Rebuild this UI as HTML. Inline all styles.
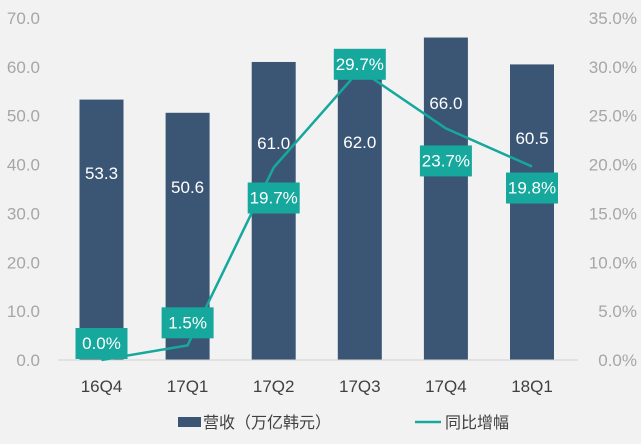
<!DOCTYPE html>
<html><head><meta charset="utf-8"><style>
body{margin:0;background:#f2f2f2;}
svg{display:block;font-family:"Liberation Sans","Noto Sans CJK SC",sans-serif;}
</style></head><body>
<svg id="c" width="641" height="444"></svg>
<script>
const categories=["16Q4","17Q1","17Q2","17Q3","17Q4","18Q1"];
const revenue=[53.3,50.6,61.0,62.0,66.0,60.5];
const growth=[0.0,1.5,19.7,29.7,23.7,19.8];
const leftTicks=[0,10,20,30,40,50,60,70];
const rightTicks=[0,5,10,15,20,25,30,35];
const growthLabelOffset=[-17,-23,30,-6,32,21];
const barLabelY=[173,187,143,142,103,138];
const NS="http://www.w3.org/2000/svg";
const svg=document.getElementById('c');
function el(t,a,p){const e=document.createElementNS(NS,t);for(const k in a)e.setAttribute(k,a[k]);(p||svg).appendChild(e);return e;}
const y0=360,yTop=18;
const yL=v=>y0-(v/70)*(y0-yTop);
const yR=v=>y0-(v/35)*(y0-yTop);
const xC=i=>101.5+i*86.1;
const bw=44;
leftTicks.forEach(t=>{const e=el('text',{x:40,y:yL(t)+6,'text-anchor':'end','font-size':17,fill:'#a6a6a6'});e.textContent=t.toFixed(1);
});
rightTicks.forEach(t=>{const e=el('text',{x:637,y:yR(t)+6,'text-anchor':'end','font-size':17,fill:'#a6a6a6'});e.textContent=t.toFixed(1)+'%';
});
revenue.forEach((v,i)=>{const r=el('rect',{x:xC(i)-bw/2,y:yL(v),width:bw,height:y0-yL(v),fill:'#3b5674'});
});
const ax=el('line',{x1:58,x2:578,y1:y0,y2:y0,stroke:'#d0d0d0','stroke-width':1});

categories.forEach((c,i)=>{const e=el('text',{x:xC(i),y:392,'text-anchor':'middle','font-size':17,fill:'#404040'});e.textContent=c;
});
revenue.forEach((v,i)=>{const e=el('text',{x:xC(i),y:barLabelY[i]+6,'text-anchor':'middle','font-size':17,fill:'#fff'});e.textContent=v.toFixed(1);
});
const pl=el('polyline',{points:growth.map((g,i)=>xC(i)+','+yR(g)).join(' '),fill:'none',stroke:'#16a89d','stroke-width':2.5});

growth.forEach((g,i)=>{const cy=yR(g)+growthLabelOffset[i];
const r=el('rect',{x:xC(i)-26,y:cy-15,width:52,height:31,fill:'#16a89d'});

const t=el('text',{x:xC(i),y:cy+6,'text-anchor':'middle','font-size':17,fill:'#fff'});t.textContent=g.toFixed(1)+'%';
});
const lg=el('g',{});
el('rect',{x:178,y:417,width:23,height:10,fill:'#3b5674'},lg);
const t1=el('text',{x:203,y:428,'font-size':16,fill:'#404040'},lg);t1.textContent='营收（万亿韩元）';

el('line',{x1:415,x2:441,y1:422,y2:422,stroke:'#16a89d','stroke-width':2.5},lg);
const t2=el('text',{x:445,y:428,'font-size':16,fill:'#404040'},lg);t2.textContent='同比增幅';

</script>
</body></html>
